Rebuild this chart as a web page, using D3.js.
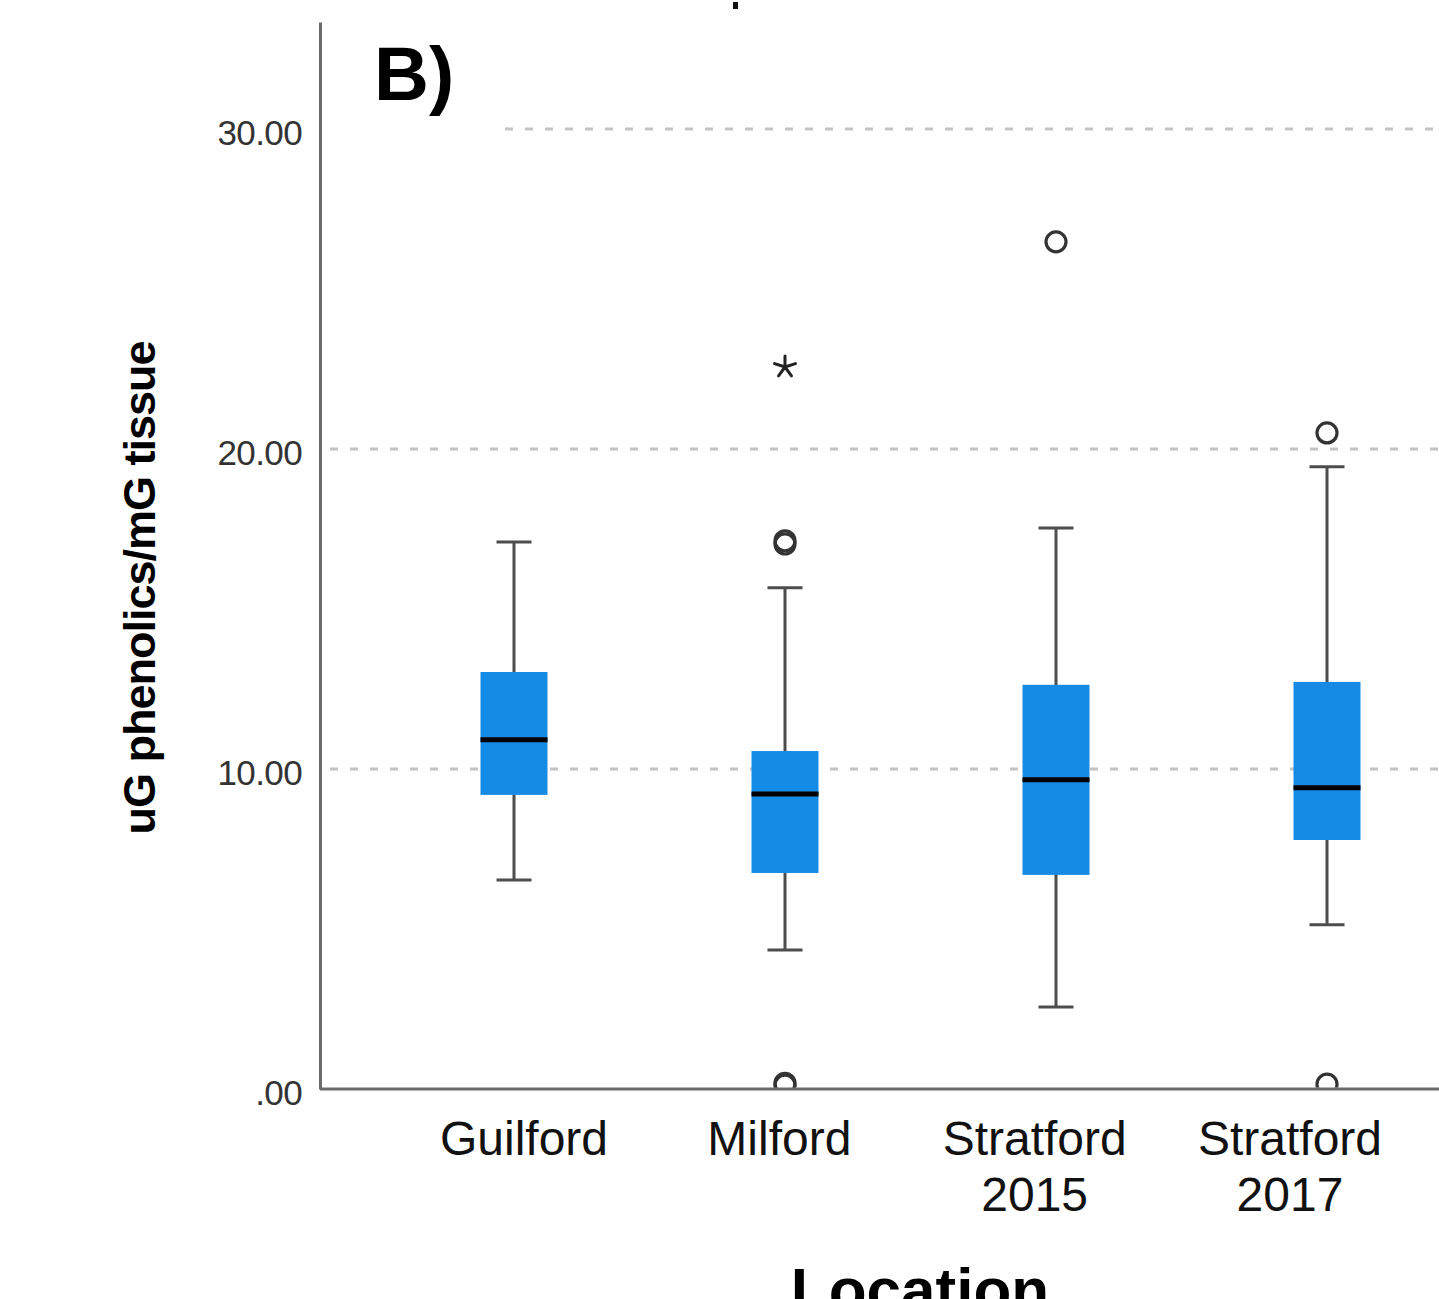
<!DOCTYPE html>
<html lang="en">
<head>
	<meta charset="UTF-8">
	<title>Phenolics by location</title>
	<script src="https://d3js.org/d3.v7.min.js"></script>
	<style>
		* { margin: 0px; padding: 0px; }
		body { background: #fff; }
		text { font-family: "Liberation Sans", Arial, sans-serif; }
	</style>
</head>
<body>
	<svg width="1439" height="1299"></svg>
	<script>
		// values
		var categories = ["Guilford", "Milford", "Stratford 2015", "Stratford 2017"];
		var labelLines = [["Guilford"], ["Milford"], ["Stratford", "2015"], ["Stratford", "2017"]];
		var whiskerLow = [6.53, 4.34, 2.56, 5.13];
		var q1 = [9.19, 6.75, 6.69, 7.78];
		var medians = [10.91, 9.22, 9.66, 9.41];
		var q3 = [13.03, 10.56, 12.63, 12.72];
		var whiskerHigh = [17.09, 15.66, 17.53, 19.44];
		var outlierCat = ["Milford", "Milford", "Milford", "Milford", "Milford", "Stratford 2015", "Stratford 2017", "Stratford 2017"];
		var outlierVal = [17.03, 17.13, 22.56, 0.12, 0.18, 26.47, 20.5, 0.15];
		var outlierType = ["o", "o", "*", "o", "o", "o", "o", "o"];
		var yTicks = [0, 10, 20, 30];

		var svg = d3.select("svg");
		var plotLeft = 320, plotBottom = 1089, plotTop = 22, plotRight = 1439;

		var y = d3.scaleLinear().domain([0, 33.34]).range([plotBottom, plotTop]);
		var x = d3.scalePoint().domain(categories).range([514, 1327]);
		// the category labels sit a bit tighter than the boxes
		var labelX = d3.scalePoint().domain(categories).range([524, 1290]);
		var boxW = 67, capW = 35;

		// grid
		svg.append("g")
			.selectAll("line")
			.data(yTicks.filter(function (d) { return d > 0; }))
			.enter()
			.append("line")
			.attr("x1", function (d) { return d === 30 ? 505 : 330; })
			.attr("x2", plotRight)
			.attr("y1", function (d) { return y(d); })
			.attr("y2", function (d) { return y(d); })
			.attr("stroke", "#c4c4c4")
			.attr("stroke-width", 3)
			.attr("stroke-dasharray", "8,12");

		// y axis
		var yAxis = svg.append("g")
			.attr("transform", "translate(" + plotLeft + ",0)")
			.call(d3.axisLeft(y)
				.tickValues(yTicks)
				.tickSize(0)
				.tickPadding(18)
				.tickFormat(function (d) { return d === 0 ? ".00" : d3.format(".2f")(d); }));
		yAxis.select(".domain").attr("stroke", "#6a6a6a").attr("stroke-width", 3);
		yAxis.selectAll("text")
			.attr("font-size", 35)
			.attr("fill", "#333")
			.attr("dy", "0.45em")
			.style("letter-spacing", "-0.6px");

		// x axis line
		svg.append("line")
			.attr("x1", plotLeft).attr("x2", plotRight)
			.attr("y1", plotBottom).attr("y2", plotBottom)
			.attr("stroke", "#6a6a6a")
			.attr("stroke-width", 3);

		svg.append("clipPath").attr("id", "plot")
			.append("rect")
			.attr("x", plotLeft + 2).attr("y", 0)
			.attr("width", plotRight - plotLeft).attr("height", plotBottom - 1.5);

		var boxes = svg.append("g")
			.selectAll("g")
			.data(categories)
			.enter()
			.append("g")
			.attr("transform", function (d) { return "translate(" + x(d) + ",0)"; });

		boxes.append("line")
			.attr("y1", function (d, i) { return y(whiskerHigh[i]); })
			.attr("y2", function (d, i) { return y(whiskerLow[i]); })
			.attr("stroke", "#4d4d4d").attr("stroke-width", 3);

		boxes.selectAll(".cap")
			.data(function (d, i) { return [whiskerHigh[i], whiskerLow[i]]; })
			.enter()
			.append("line")
			.attr("x1", -capW / 2).attr("x2", capW / 2)
			.attr("y1", function (v) { return y(v); })
			.attr("y2", function (v) { return y(v); })
			.attr("stroke", "#4d4d4d").attr("stroke-width", 3);

		boxes.append("rect")
			.attr("x", -boxW / 2)
			.attr("width", boxW)
			.attr("y", function (d, i) { return y(q3[i]); })
			.attr("height", function (d, i) { return y(q1[i]) - y(q3[i]); })
			.attr("fill", "#168be6");

		boxes.append("line")
			.attr("x1", -boxW / 2).attr("x2", boxW / 2)
			.attr("y1", function (d, i) { return y(medians[i]); })
			.attr("y2", function (d, i) { return y(medians[i]); })
			.attr("stroke", "#000").attr("stroke-width", 5);

		// outliers
		var outliers = outlierVal.map(function (v, i) {
			return { cat: outlierCat[i], v: v, type: outlierType[i] };
		});
		var og = svg.append("g").attr("clip-path", "url(#plot)");
		og.selectAll("circle")
			.data(outliers.filter(function (d) { return d.type === "o"; }))
			.enter()
			.append("circle")
			.attr("cx", function (d) { return x(d.cat); })
			.attr("cy", function (d) { return y(d.v); })
			.attr("r", 10)
			.attr("fill", "none")
			.attr("stroke", "#333")
			.attr("stroke-width", 3.2);

		var star = d3.range(5).map(function (k) {
			var a = -Math.PI / 2 + k * 2 * Math.PI / 5;
			return "M0,0L" + (11 * Math.cos(a)).toFixed(2) + "," + (11 * Math.sin(a)).toFixed(2);
		}).join("");
		og.selectAll(".star")
			.data(outliers.filter(function (d) { return d.type === "*"; }))
			.enter()
			.append("path")
			.attr("transform", function (d) { return "translate(" + x(d.cat) + "," + y(d.v) + ")"; })
			.attr("d", star)
			.attr("stroke", "#222")
			.attr("stroke-width", 3)
			.attr("stroke-linecap", "round");

		// category labels
		var labels = svg.append("g")
			.selectAll("text")
			.data(categories)
			.enter()
			.append("text")
			.attr("x", function (d) { return labelX(d); })
			.attr("y", 1155)
			.attr("text-anchor", "middle")
			.attr("font-size", 48)
			.attr("fill", "#111");
		labels.selectAll("tspan")
			.data(function (d, i) { return labelLines[i].map(function (t) { return { cat: d, t: t }; }); })
			.enter()
			.append("tspan")
			.attr("x", function (d) { return labelX(d.cat); })
			.attr("dy", function (d, j) { return j === 0 ? 0 : 56; })
			.text(function (d) { return d.t; });

		// titles
		svg.append("text")
			.attr("x", 920).attr("y", 1311)
			.attr("text-anchor", "middle")
			.attr("font-size", 62)
			.attr("font-weight", "bold")
			.attr("fill", "#000")
			.text("Location");

		svg.append("text")
			.attr("transform", "translate(155,588) rotate(-90)")
			.attr("text-anchor", "middle")
			.attr("font-size", 45)
			.attr("font-weight", "bold")
			.style("letter-spacing", "-1px")
			.attr("fill", "#000")
			.text("uG phenolics/mG tissue");

		svg.append("text")
			.attr("x", 374).attr("y", 100)
			.attr("font-size", 76)
			.attr("font-weight", "bold")
			.attr("fill", "#000")
			.text("B)");

		// remnant of the panel title above, cut by the frame
		svg.append("rect")
			.attr("x", 733).attr("y", 2)
			.attr("width", 5).attr("height", 7)
			.attr("fill", "#111");
	</script>
</body>
</html>
